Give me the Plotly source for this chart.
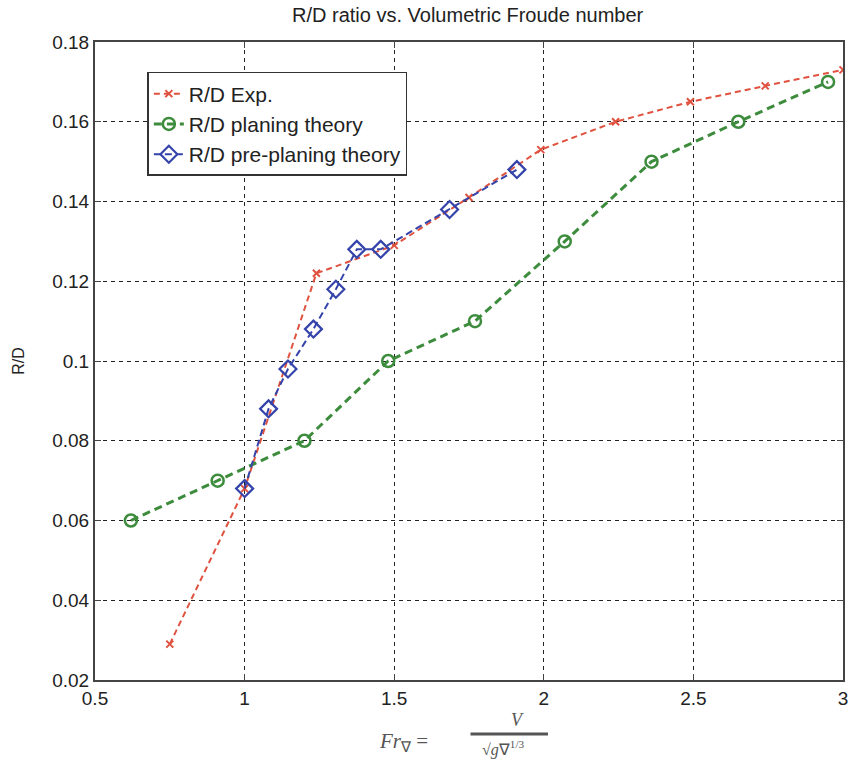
import plotly.graph_objects as go

# Experimental resistance-to-displacement ratio
fr_exp = [0.75, 1.0, 1.24, 1.5, 1.75, 1.99, 2.24, 2.49, 2.74, 3.0]
rd_exp = [0.029, 0.068, 0.122, 0.129, 0.141, 0.153, 0.160, 0.165, 0.169, 0.173]

# Planing theory prediction
fr_pl = [0.62, 0.91, 1.2, 1.48, 1.77, 2.07, 2.36, 2.65, 2.95]
rd_pl = [0.060, 0.070, 0.080, 0.100, 0.110, 0.130, 0.150, 0.160, 0.170]

# Pre-planing theory prediction
fr_pp = [1.0, 1.08, 1.145, 1.23, 1.305, 1.375, 1.455, 1.685, 1.91]
rd_pp = [0.068, 0.088, 0.098, 0.108, 0.118, 0.128, 0.128, 0.138, 0.148]

x_ticks = [0.5, 1, 1.5, 2, 2.5, 3]
x_labels = ["0.5", "1", "1.5", "2", "2.5", "3"]
y_ticks = [0.02, 0.04, 0.06, 0.08, 0.10, 0.12, 0.14, 0.16, 0.18]
y_labels = ["0.02", "0.04", "0.06", "0.08", "0.1", "0.12", "0.14", "0.16", "0.18"]

RED = "#e0523f"
GREEN = "#3d8c3d"
BLUE = "#3444aa"
FONT = "Liberation Sans, Arial, sans-serif"
SERIF = "Liberation Serif, Times New Roman, serif"

fig = go.Figure()
fig.add_trace(go.Scatter(
    x=fr_exp, y=rd_exp, name="R/D Exp.", mode="lines+markers",
    line=dict(color=RED, width=2, dash="6px,4px"),
    marker=dict(symbol="x-thin", size=7, line=dict(color=RED, width=2)),
))
fig.add_trace(go.Scatter(
    x=fr_pl, y=rd_pl, name="R/D planing theory", mode="lines+markers",
    line=dict(color=GREEN, width=3, dash="8px,5px"),
    marker=dict(symbol="circle-open", size=12, color=GREEN, line=dict(color=GREEN, width=2.5)),
))
fig.add_trace(go.Scatter(
    x=fr_pp, y=rd_pp, name="R/D pre-planing theory", mode="lines+markers",
    line=dict(color=BLUE, width=2, dash="7px,4px"),
    marker=dict(symbol="diamond-open", size=13, color=BLUE, line=dict(color=BLUE, width=2.2)),
))

axis_common = dict(
    showgrid=True, gridcolor="#222", gridwidth=1.3, griddash="4px,4px",
    showline=True, linecolor="#444", linewidth=2, mirror="allticks",
    ticks="inside", ticklen=6, tickcolor="#444", tickwidth=1.3,
    zeroline=False, tickfont=dict(family=FONT, size=19, color="#222"),
)

fig.update_xaxes(range=[0.5, 3], tickvals=x_ticks, ticktext=x_labels, **axis_common)
fig.update_yaxes(range=[0.02, 0.18], tickvals=y_ticks, ticktext=y_labels,
                 title=dict(text="R/D", font=dict(family=FONT, size=16, color="#222"), standoff=24),
                 **axis_common)

# x-axis label written as a stacked fraction
fig.add_annotation(text="<i>Fr</i><sub>∇</sub> =", xref="paper", yref="paper",
                   x=0.4475, y=-0.097, xanchor="right", yanchor="middle", showarrow=False,
                   font=dict(family=SERIF, size=21, color="#555"))
fig.add_annotation(text="<i>V</i>", xref="paper", yref="paper",
                   x=0.5644, y=-0.063, xanchor="center", yanchor="middle", showarrow=False,
                   font=dict(family=SERIF, size=18, color="#555"))
fig.add_annotation(text="√<i>g</i>∇<sup>1/3</sup>", xref="paper", yref="paper",
                   x=0.5458, y=-0.0895, xanchor="center", yanchor="top", showarrow=False,
                   borderpad=0, font=dict(family=SERIF, size=16, color="#555"))
fig.add_shape(type="line", xref="paper", yref="paper",
              x0=0.502, x1=0.6056, y0=-0.0846, y1=-0.0846,
              line=dict(color="#555", width=3))

fig.update_layout(
    width=858, height=761,
    margin=dict(l=95, r=10, t=42, b=81),
    paper_bgcolor="white", plot_bgcolor="white",
    title=dict(text="R/D ratio vs. Volumetric Froude number", x=0.545, xanchor="center",
               y=1 - 15 / 761, yanchor="middle", font=dict(family=FONT, size=20, color="#222")),
    legend=dict(x=0.070, y=0.953, xanchor="left", yanchor="top",
                bordercolor="#333", borderwidth=1.5, bgcolor="white",
                font=dict(family=FONT, size=21, color="#222"), tracegroupgap=0),
    showlegend=True,
)

fig.write_html("out.html")
